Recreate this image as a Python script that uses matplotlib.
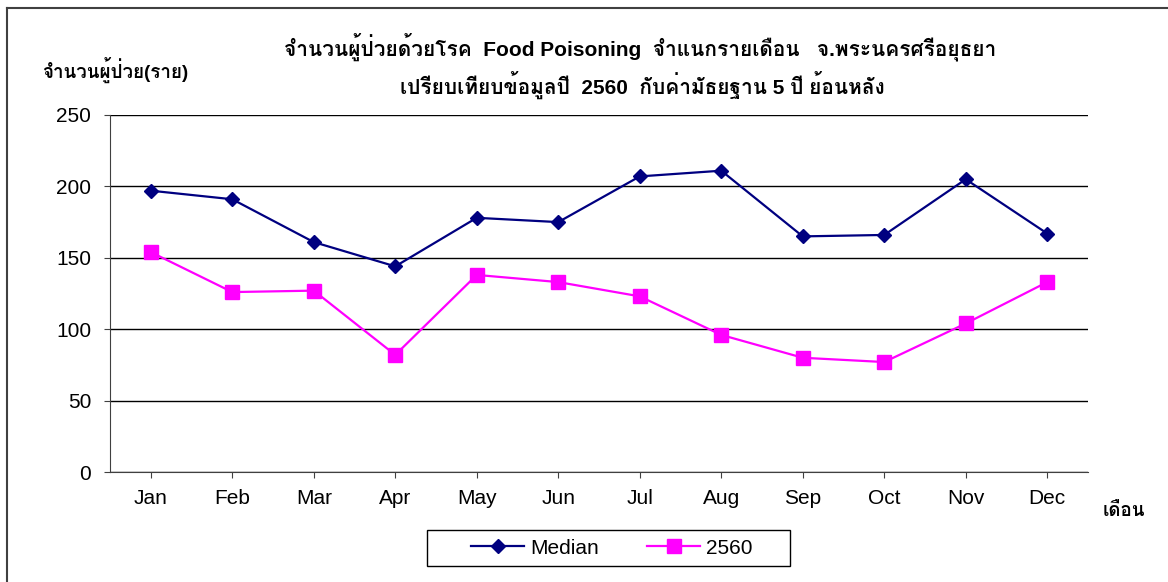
import matplotlib
matplotlib.use("Agg")
import matplotlib.pyplot as plt
from matplotlib.lines import Line2D
from matplotlib.patches import Rectangle

months = ["Jan", "Feb", "Mar", "Apr", "May", "Jun",
          "Jul", "Aug", "Sep", "Oct", "Nov", "Dec"]
median = [197, 191, 161, 144, 178, 175, 207, 211, 165, 166, 205, 167]
y2560 = [154, 126, 127, 82, 138, 133, 123, 96, 80, 77, 104, 133]
yticks = [0, 50, 100, 150, 200, 250]

title1 = "จำนวนผู้ป่วยด้วยโรค  Food Poisoning  จำแนกรายเดือน   จ.พระนครศรีอยุธยา"
title2 = "เปรียบเทียบข้อมูลปี  2560  กับค่ามัธยฐาน 5 ปี ย้อนหลัง"
ylab = "จำนวนผู้ป่วย(ราย)"
xlab = "เดือน"

# Arial-like latin, then a Thai font for the Thai glyphs
plt.rcParams["font.family"] = ["Liberation Sans", "Loma", "Noto Sans Thai", "DejaVu Sans"]

fig = plt.figure(figsize=(11.68, 5.82), dpi=100)
W, H = 1168, 582
ax = fig.add_axes([110 / W, 1 - 472 / H, 978 / W, 357 / H])

x = range(len(months))
ax.plot(x, median, color="#000080", marker="D", markersize=7, lw=1.6, label="Median")
ax.plot(x, y2560, color="#FF00FF", marker="s", markersize=10, lw=1.6, label="2560")

ax.set_xlim(-0.5, 11.5)
ax.set_ylim(0, 250)
ax.set_yticks(yticks)
ax.set_xticks(list(x))
ax.set_xticklabels(months)
ax.grid(axis="y", color="black", lw=1)
ax.set_axisbelow(True)
for s in ["top", "right"]:
    ax.spines[s].set_visible(False)
ax.spines["left"].set_color("#404040")
ax.spines["bottom"].set_color("#404040")
ax.tick_params(axis="both", labelsize=15, direction="out", length=4.5, color="#404040")
ax.tick_params(axis="x", pad=8)
ax.tick_params(axis="y", pad=9)

fig.text(640 / W, 1 - 47 / H, title1, ha="center", va="center", fontsize=15, fontweight="bold")
fig.text(642 / W, 1 - 85 / H, title2, ha="center", va="center", fontsize=15, fontweight="bold")
fig.text(42 / W, 1 - 70 / H, ylab, ha="left", va="center", fontsize=13.5, fontweight="bold")
fig.text(1124 / W, 1 - 512 / H, xlab, ha="center", va="center", fontsize=13.5, fontweight="bold")

# legend entries without frame, box drawn separately (Excel-style wide padding)
leg = fig.legend(loc="center", bbox_to_anchor=(612 / W, 1 - 548 / H), ncol=2,
                 fontsize=15, frameon=False, handlelength=2.55, handletextpad=0.3,
                 columnspacing=2.3, borderpad=0, borderaxespad=0)
fig.add_artist(Rectangle((427 / W, 1 - 566 / H), 363 / W, 36 / H, transform=fig.transFigure,
                         fill=False, edgecolor="black", lw=1))

# chart area border (left and top only visible)
fig.add_artist(Line2D([7 / W, 7 / W], [0, 1 - 8 / H], color="#404040", lw=1.5))
fig.add_artist(Line2D([7 / W, 1], [1 - 8 / H, 1 - 8 / H], color="#404040", lw=1.5))

fig.savefig("out.png", dpi=100)
